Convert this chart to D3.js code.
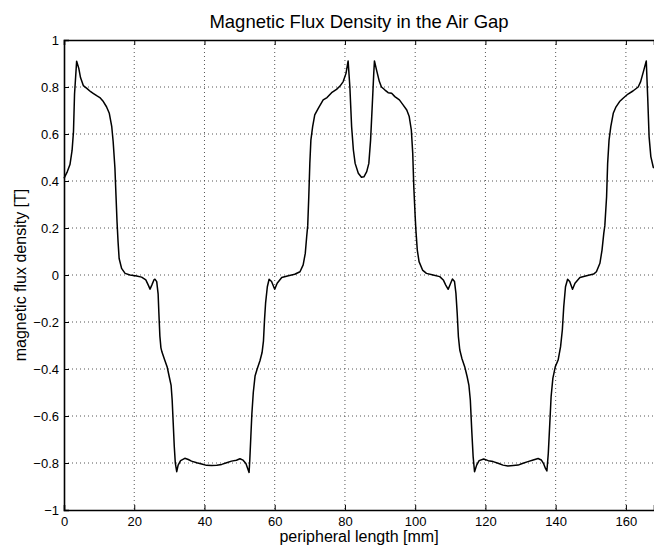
<!DOCTYPE html>
<html>
<head>
<meta charset="utf-8">
<script src="https://cdn.jsdelivr.net/npm/d3@7"></script>
<style>
  html, body { margin: 0; padding: 0; background: #fff; }
  svg { display: block; }
  text { font-family: "Liberation Sans", Arial, Helvetica, sans-serif; fill: #000; }
</style>
</head>
<body>
<svg id="chart" width="654" height="546"></svg>
<script>
// ---- data ----
const titleText = "Magnetic Flux Density in the Air Gap";
const xLabelText = "peripheral length [mm]";
const yLabelText = "magnetic flux density [T]";
const xTicks = [0, 20, 40, 60, 80, 100, 120, 140, 160];
const yTicks = [-1, -0.8, -0.6, -0.4, -0.2, 0, 0.2, 0.4, 0.6, 0.8, 1];
const xDomain = [0, 168];
const yDomain = [-1, 1];

const positionMm = [
  0, 0.95, 1.7, 2.3, 2.7, 3.0, 3.6, 4.2, 4.7, 5.5, 6.5, 7.6, 8.3, 9.3, 10.2, 11.2, 12.1, 12.9,
  13.6, 14.0, 14.5, 14.8, 15.1, 15.4, 15.7, 16.4, 17.4, 18.8, 20.7, 22.1, 23.3, 24.0, 24.5, 25.0,
  25.6, 25.9, 26.4, 26.8, 27.0, 27.3, 27.6, 27.9, 28.6, 29.4, 30.0, 30.5, 30.8, 31.1, 31.4, 31.7,
  32.1, 32.5, 33.2, 34.4, 35.4, 36.3, 37.8, 39.2, 40.6, 42.0, 43.5, 44.9, 46.3, 47.7, 49.1, 50.1,
  51.0, 51.8, 52.3, 52.7, 52.9, 53.2, 53.5, 53.9, 54.4, 55.0, 55.8, 56.4, 56.8, 57.1, 57.4, 57.9,
  58.4, 59.1, 60.0, 60.7, 62.0, 63.9, 65.7, 67.2, 68.1, 68.7, 69.1, 69.4, 69.7, 70.0, 70.3, 70.8,
  71.4, 72.4, 73.8, 74.9, 76.2, 77.6, 78.6, 79.5, 80.3, 80.9, 81.4, 81.9, 82.4, 82.9, 83.8, 84.7,
  85.4, 86.2, 86.8, 87.3, 87.8, 88.2, 88.4, 89.0, 89.8, 90.4, 91.4, 92.3, 93.3, 94.2, 95.5, 96.6,
  97.6, 98.3, 98.9, 99.3, 99.6, 100.0, 100.2, 100.6, 101.1, 102.1, 103.2, 105.1, 107.0, 108.0,
  108.7, 109.4, 110.1, 110.6, 111.2, 111.6, 111.96, 112.3, 112.7, 113.3, 114.1, 114.8, 115.3,
  115.7, 116.1, 116.5, 116.9, 117.5, 118.2, 119.5, 120.8, 122.2, 123.6, 125.0, 126.4, 127.9,
  129.3, 130.7, 132.1, 133.6, 135.0, 135.9, 136.6, 137.1, 137.5, 137.9, 138.3, 138.7, 139.2,
  139.9, 140.7, 141.4, 141.9, 142.3, 142.8, 143.4, 144.0, 144.8, 145.5, 146.9, 148.8, 150.8,
  151.6, 152.6, 153.2, 153.7, 154.0, 154.5, 154.8, 155.2, 155.7, 156.4, 157.1, 158.2, 159.2,
  160.6, 162.0, 163.5, 164.2, 165.1, 165.8, 166.2, 166.6, 167.1, 167.8, 168.0
];
const fluxDensityT = [
  0.411, 0.44, 0.47, 0.53, 0.61, 0.77, 0.91, 0.88, 0.84, 0.806, 0.794, 0.78, 0.773, 0.763, 0.755, 0.738, 0.716, 0.688,
  0.631, 0.567, 0.455, 0.34, 0.227, 0.14, 0.07, 0.028, 0.007, 0.0, -0.004, -0.009, -0.021, -0.043, -0.06, -0.043,
  -0.021, -0.018, -0.028, -0.08, -0.156, -0.26, -0.31, -0.328, -0.358, -0.393, -0.435, -0.47, -0.532, -0.631, -0.73, -0.801,
  -0.837, -0.809, -0.79, -0.78, -0.785, -0.792, -0.799, -0.804, -0.81, -0.811, -0.81, -0.806, -0.799, -0.792, -0.788, -0.782,
  -0.788, -0.802, -0.823, -0.84, -0.788, -0.688, -0.589, -0.50, -0.43, -0.40, -0.365, -0.33, -0.28, -0.19, -0.12, -0.05,
  -0.018, -0.028, -0.061, -0.035, -0.011, -0.003, 0.003, 0.014, 0.043, 0.092, 0.163, 0.21, 0.333, 0.475, 0.574, 0.631,
  0.681, 0.709, 0.745, 0.755, 0.776, 0.79, 0.804, 0.823, 0.858, 0.911, 0.80, 0.631, 0.532, 0.475, 0.433, 0.416,
  0.418, 0.44, 0.475, 0.574, 0.73, 0.858, 0.911, 0.872, 0.823, 0.80, 0.787, 0.776, 0.773, 0.759, 0.745, 0.723,
  0.702, 0.674, 0.617, 0.518, 0.376, 0.248, 0.191, 0.106, 0.057, 0.021, 0.007, 0.0, -0.007, -0.021,
  -0.043, -0.061, -0.035, -0.017, -0.028, -0.078, -0.163, -0.262, -0.319, -0.355, -0.39, -0.433, -0.47,
  -0.532, -0.66, -0.773, -0.837, -0.809, -0.79, -0.783, -0.79, -0.794, -0.801, -0.809, -0.813, -0.811,
  -0.809, -0.801, -0.794, -0.787, -0.781, -0.787, -0.804, -0.823, -0.834, -0.759, -0.64, -0.518, -0.44,
  -0.39, -0.362, -0.305, -0.234, -0.135, -0.050, -0.018, -0.028, -0.061, -0.035, -0.011, -0.003, 0.004,
  0.014, 0.050, 0.106, 0.177, 0.21, 0.333, 0.475, 0.574, 0.631, 0.688, 0.713, 0.738, 0.752,
  0.77, 0.783, 0.80, 0.823, 0.872, 0.911, 0.759, 0.589, 0.504, 0.458, 0.455
];

// ---- layout ----
const W = 654, H = 546;
const margin = { left: 64, top: 40, right: 0, bottom: 36 };
const plotW = W - margin.left - margin.right;
const plotH = H - margin.top - margin.bottom;

const svg = d3.select("#chart");
const x = d3.scaleLinear().domain(xDomain).range([margin.left, margin.left + plotW]);
const y = d3.scaleLinear().domain(yDomain).range([margin.top + plotH, margin.top]);

const fmt = v => {
  if (Math.abs(v) < 1e-9) return "0";
  const s = (Math.round(v * 10) / 10).toString();
  return s.replace("-", "\u2212");
};

// grid
const grid = svg.append("g").attr("class", "grid");
grid.selectAll("line.gx").data(xTicks.filter(d => d > xDomain[0] && d < xDomain[1]))
  .join("line").attr("class", "gx")
  .attr("x1", d => x(d)).attr("x2", d => x(d))
  .attr("y1", margin.top).attr("y2", margin.top + plotH)
  .attr("stroke", "#555").attr("stroke-width", 1).attr("stroke-dasharray", "1,3");
grid.selectAll("line.gy").data(yTicks.filter(d => d > yDomain[0] && d < yDomain[1]))
  .join("line").attr("class", "gy")
  .attr("x1", margin.left).attr("x2", margin.left + plotW)
  .attr("y1", d => y(d)).attr("y2", d => y(d))
  .attr("stroke", "#555").attr("stroke-width", 1).attr("stroke-dasharray", "1,3");

// data line
const pts = positionMm.map((d, i) => [d, fluxDensityT[i]]);
const line = d3.line().x(d => x(d[0])).y(d => y(d[1]));
svg.append("path").datum(pts)
  .attr("d", line).attr("fill", "none")
  .attr("stroke", "#000").attr("stroke-width", 1.5).attr("stroke-linejoin", "round");

// axes
const tickLen = 5;
const xAxisB = d3.axisBottom(x).tickValues(xTicks).tickSize(-tickLen).tickPadding(8).tickFormat(fmt);
const xAxisT = d3.axisTop(x).tickValues(xTicks).tickSize(-tickLen).tickFormat("");
const yAxisL = d3.axisLeft(y).tickValues(yTicks).tickSize(-tickLen).tickPadding(8).tickFormat(fmt);

const gB = svg.append("g").attr("transform", `translate(0,${margin.top + plotH})`).call(xAxisB);
const gT = svg.append("g").attr("transform", `translate(0,${margin.top})`).call(xAxisT);
const gL = svg.append("g").attr("transform", `translate(${margin.left},0)`).call(yAxisL);

[gB, gT, gL].forEach(g => {
  g.select(".domain").attr("stroke", "#000").attr("stroke-width", 1.6);
  g.selectAll(".tick line").attr("stroke", "#000").attr("stroke-width", 1);
  g.selectAll(".tick text").style("font-size", "13px").attr("fill", "#000");
});
gL.selectAll(".tick text").attr("x", -5);
gB.selectAll(".tick text").attr("y", 7);

// title and labels
svg.append("text").attr("x", margin.left + plotW / 2).attr("y", 28)
  .attr("text-anchor", "middle").style("font-size", "18.5px").text(titleText);
svg.append("text").attr("x", margin.left + plotW / 2).attr("y", 542)
  .attr("text-anchor", "middle").style("font-size", "16px").text(xLabelText);
svg.append("text")
  .attr("transform", `translate(26,${margin.top + plotH / 2}) rotate(-90)`)
  .attr("text-anchor", "middle").style("font-size", "16px").text(yLabelText);
</script>
</body>
</html>
